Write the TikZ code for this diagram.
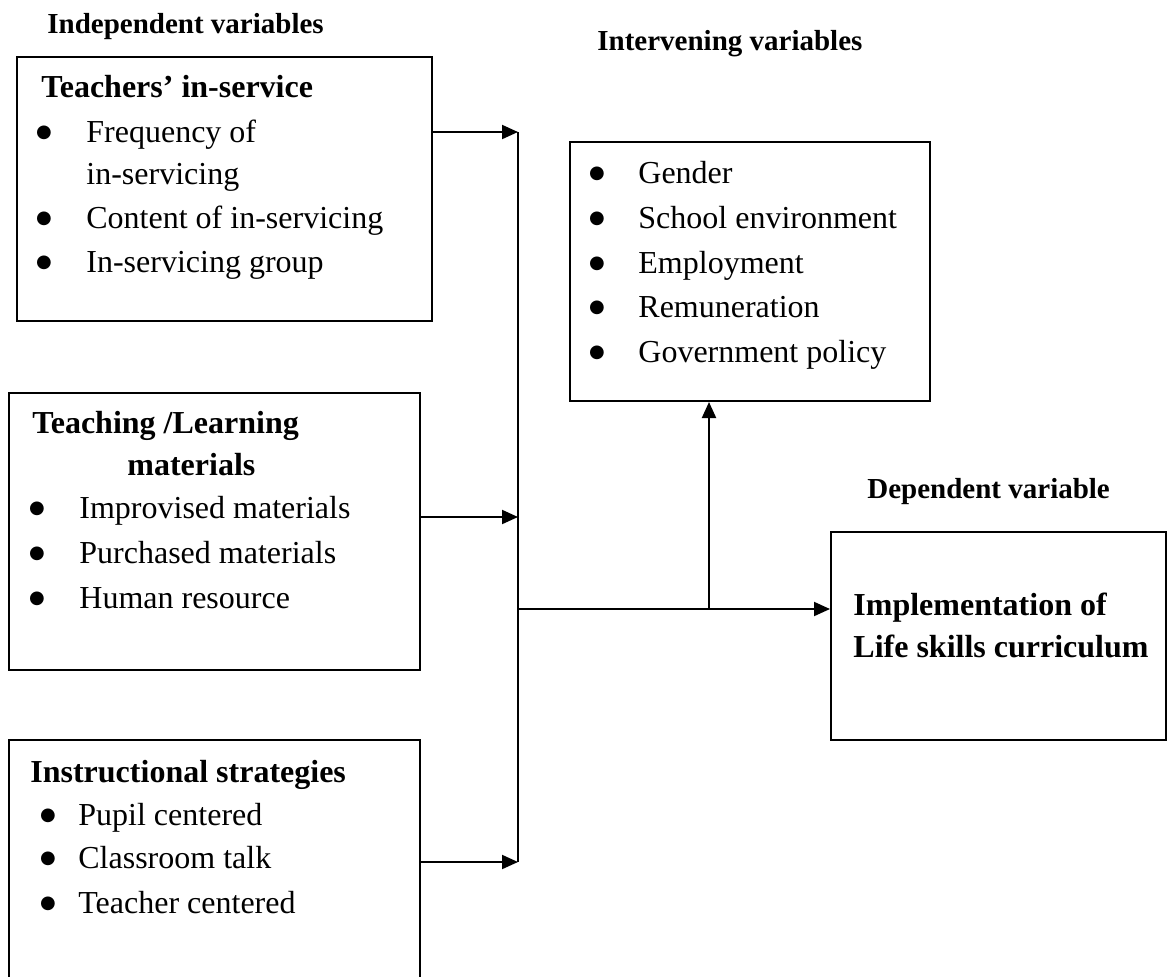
\documentclass[tikz,border=0pt]{standalone}
\usepackage{fontspec}
\setmainfont{Liberation Serif}
\newfontfamily\dvfont{DejaVu Sans}
\usetikzlibrary{arrows.meta}
\begin{document}
\begin{tikzpicture}[x=0.5pt,y=-0.5pt,
  box/.style={draw, line width=1pt, rectangle, inner sep=0pt},
  txt/.style={anchor=base west, inner sep=0pt, font=\fontsize{16}{19}\selectfont},
  bul/.style={anchor=base, inner sep=0pt, yshift=2.4pt, font=\dvfont\fontsize{9}{10}\selectfont},
  hd/.style={anchor=base west, inner sep=0pt, font=\fontsize{16}{19}\selectfont\bfseries},
  vhead/.style={anchor=base west, inner sep=0pt, font=\fontsize{14.5}{17}\selectfont\bfseries},
  arr/.style={line width=1pt, -{Triangle[length=8pt,width=7pt]}},
  ln/.style={line width=1pt}]
\useasboundingbox (0,0) rectangle (1168,976);
\clip (0,0) rectangle (1168,976);

% headings
\node[vhead] (hind) at (47,33) {Independent variables};
\node[vhead] (hint) at (597,50) {Intervening variables};
\node[vhead] (hdep) at (867,498) {Dependent variable};

% box 1
\node[box, minimum width=207.5pt, minimum height=132pt] (b1) at (224.5,189) {};
\node[hd] (b1h) at (41,97) {Teachers’ in-service};
\node[bul] (b1d1) at (44,142) {●};
\node[txt] (b1t1) at (86,142) {Frequency of};
\node[txt] (b1t1b) at (86,184) {in-servicing};
\node[bul] (b1d2) at (44,228) {●};
\node[txt] (b1t2) at (86,228) {Content of in-servicing};
\node[bul] (b1d3) at (44,272) {●};
\node[txt] (b1t3) at (86,272) {In-servicing group};

% box 2
\node[box, minimum width=205.5pt, minimum height=138.5pt] (b2) at (214.5,531.5) {};
\node[hd] (b2h) at (32,433) {Teaching /Learning};
\node[hd] (b2h2) at (127,475) {materials};
\node[bul] (b2d1) at (37,518) {●};
\node[txt] (b2t1) at (79,518) {Improvised materials};
\node[bul] (b2d2) at (37,563) {●};
\node[txt] (b2t2) at (79,563) {Purchased materials};
\node[bul] (b2d3) at (37,608) {●};
\node[txt] (b2t3) at (79,608) {Human resource};

% box 3
\node[box, minimum width=205.5pt, minimum height=125pt] (b3) at (214.5,865) {};
\node[hd] (b3h) at (30,782) {Instructional strategies};
\node[bul] (b3d1) at (48,825) {●};
\node[txt] (b3t1) at (78,825) {Pupil centered};
\node[bul] (b3d2) at (48,868) {●};
\node[txt] (b3t2) at (78,868) {Classroom talk};
\node[bul] (b3d3) at (48,913) {●};
\node[txt] (b3t3) at (78,913) {Teacher centered};

% intervening box
\node[box, minimum width=180pt, minimum height=129.5pt] (iv) at (749.5,271.5) {};
\node[bul] (ivd1) at (597,183) {●};
\node[txt] (ivt1) at (638,183) {Gender};
\node[bul] (ivd2) at (597,228) {●};
\node[txt] (ivt2) at (638,228) {School environment};
\node[bul] (ivd3) at (597,273) {●};
\node[txt] (ivt3) at (638,273) {Employment};
\node[bul] (ivd4) at (597,317) {●};
\node[txt] (ivt4) at (638,317) {Remuneration};
\node[bul] (ivd5) at (597,362) {●};
\node[txt] (ivt5) at (638,362) {Government policy};

% dependent box
\node[box, minimum width=167.5pt, minimum height=104pt] (dep) at (998.5,636) {};
\node[hd] (dept1) at (853,615) {Implementation of};
\node[hd] (dept2) at (853,657) {Life skills curriculum};

% connectors
\coordinate (j1) at (518,132);
\coordinate (j2) at (518,517);
\coordinate (j3) at (518,862);
\coordinate (j4) at (518,609);
\coordinate (j5) at (709,609);
\draw[ln] (j1) -- (j3);
\draw[arr] (b1.east |- j1) -- (j1);
\draw[arr] (b2.east |- j2) -- (j2);
\draw[arr] (b3.east |- j3) -- (j3);
\draw[arr] (j4) -- (dep.west |- j4);
\draw[arr] (j5) -- (iv.south -| j5);
\end{tikzpicture}
\end{document}
